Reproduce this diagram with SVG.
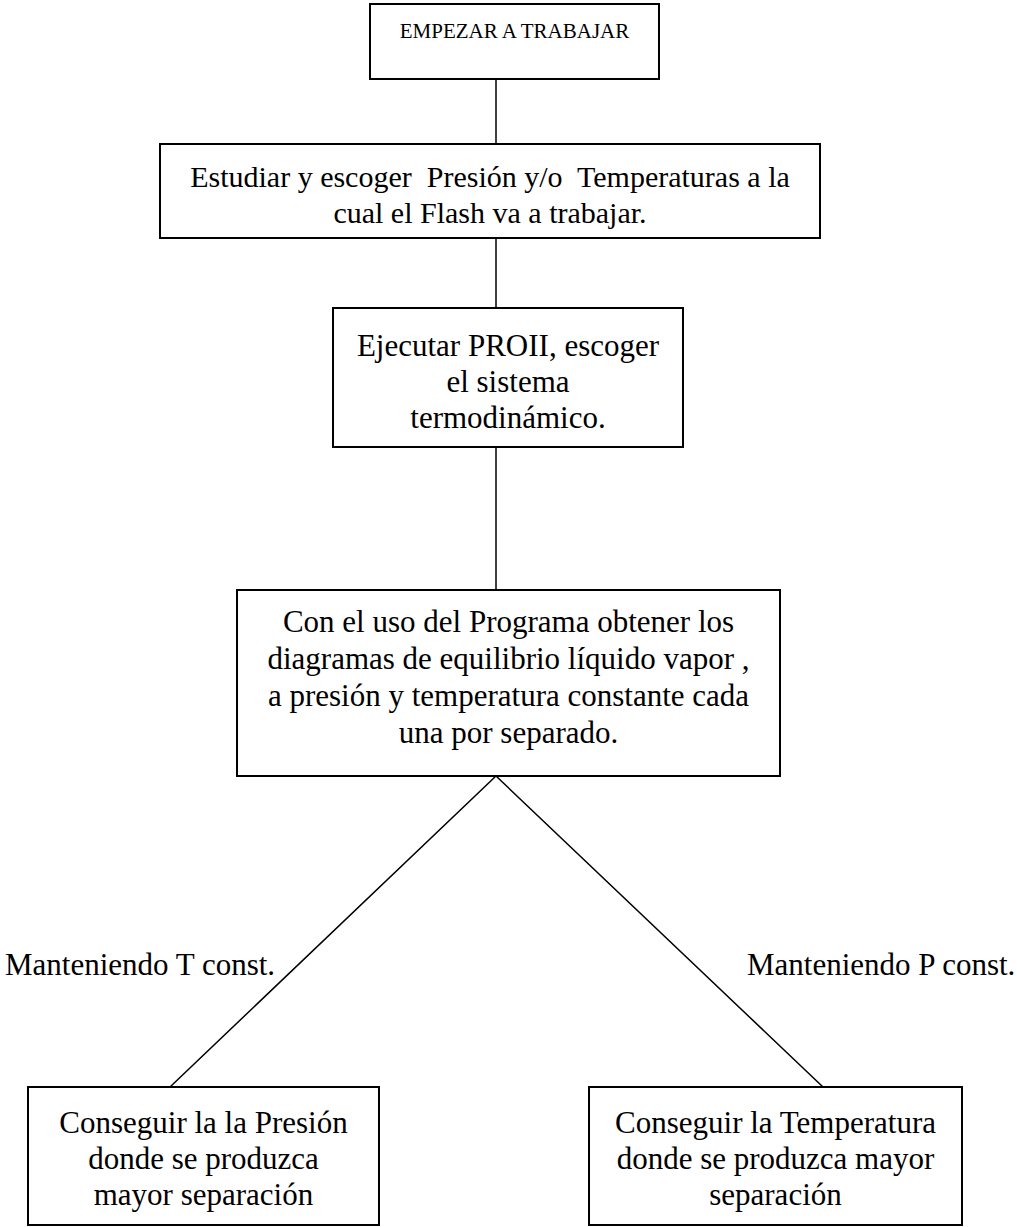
<svg xmlns="http://www.w3.org/2000/svg" width="1017" height="1227" viewBox="0 0 1017 1227">
<style>
.box{fill:#fff;stroke:#000;stroke-width:2}
.t{font-family:"Liberation Serif","Times New Roman",serif;font-size:31px;fill:#000;text-anchor:middle;white-space:pre}
.s{font-size:21px}
.m{font-size:30px}
.lbl{font-family:"Liberation Serif","Times New Roman",serif;font-size:31px;fill:#000}
.c{stroke:#000;stroke-width:1.5;fill:none}
</style>
<rect width="1017" height="1227" fill="#fff"/>
<g id="connectors">
<line class="c" x1="496" y1="79" x2="496" y2="144"/>
<line class="c" x1="496" y1="238" x2="496" y2="308"/>
<line class="c" x1="496" y1="447" x2="496" y2="590"/>
<path class="c" d="M170 1087 L496 776 L823 1087"/>
</g>
<g id="n1"><rect class="box" x="370" y="4" width="289" height="75"/>
<text class="t s" x="514.5" y="38">EMPEZAR A TRABAJAR</text></g>
<g id="n2"><rect class="box" x="160" y="144" width="660" height="94"/>
<text class="t m" x="490" y="187">Estudiar y escoger  Presión y/o  Temperaturas a la</text>
<text class="t m" x="490" y="223">cual el Flash va a trabajar.</text></g>
<g id="n3"><rect class="box" x="333" y="308" width="350" height="139"/>
<text class="t" x="508" y="356">Ejecutar PROII, escoger</text>
<text class="t" x="508" y="392">el sistema</text>
<text class="t" x="508" y="428">termodinámico.</text></g>
<g id="n4"><rect class="box" x="237" y="590" width="543" height="186"/>
<text class="t" x="508.5" y="632">Con el uso del Programa obtener los</text>
<text class="t" x="508.5" y="669">diagramas de equilibrio líquido vapor ,</text>
<text class="t" x="508.5" y="706">a presión y temperatura constante cada</text>
<text class="t" x="508.5" y="743">una por separado.</text></g>
<g id="n5"><rect class="box" x="28" y="1087" width="351" height="138"/>
<text class="t" x="203.5" y="1133">Conseguir la la Presión</text>
<text class="t" x="203.5" y="1169">donde se produzca</text>
<text class="t" x="203.5" y="1205">mayor separación</text></g>
<g id="n6"><rect class="box" x="589" y="1087" width="373" height="138"/>
<text class="t" x="775.5" y="1133">Conseguir la Temperatura</text>
<text class="t" x="775.5" y="1169">donde se produzca mayor</text>
<text class="t" x="775.5" y="1205">separación</text></g>
<text class="lbl" x="5" y="975">Manteniendo T const.</text>
<text class="lbl" x="747" y="975">Manteniendo P const.</text>
</svg>
